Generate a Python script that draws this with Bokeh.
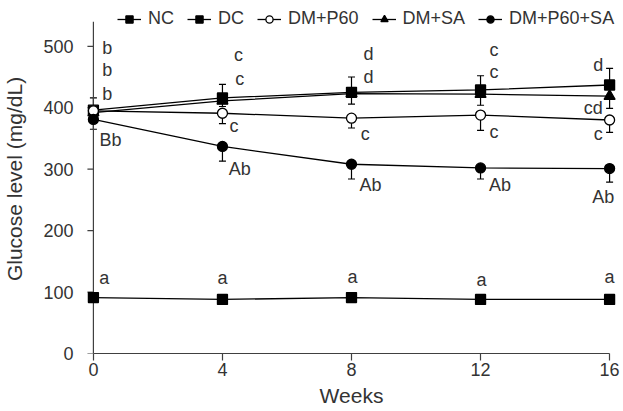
from bokeh.plotting import figure
from bokeh.models import Range1d, FixedTicker, Legend, LegendItem, Whisker, ColumnDataSource, TeeHead
from bokeh.core.properties import value
from bokeh.embed import file_html
from bokeh.resources import INLINE

# ---- data ----
weeks = [0, 4, 8, 12, 16]
nc = [91, 88, 91, 88, 88]
dc = [396, 416, 425, 429, 437]
p60 = [395, 391, 383, 388, 380]
sa = [392, 411, 423, 422, 419]
p60sa = [381, 337, 308, 302, 301]
dc_sd = [20, 22, 25, 23, 27]
p60_sd = [10, 17, 16, 25, 20]
sa_sd = [12, 9, 17, 18, 20]
p60sa_sd = [16, 24, 24, 18, 22]
series_names = ["NC", "DC", "DM+P60", "DM+SA", "DM+P60+SA"]
x_ticks = [0, 4, 8, 12, 16]
y_ticks = [0, 100, 200, 300, 400, 500]

# significance letters: (week position, glucose position, text)
ann_x = [0.43, 0.43, 0.43, 0.53, 0.34,
         4.5, 4.54, 4.36, 4.54, 4.0,
         8.53, 8.53, 8.43, 8.59, 8.03,
         12.42, 12.42, 12.42, 12.6, 12.03,
         15.65, 15.49, 15.65, 15.8, 16.0]
ann_y = [498, 461, 422, 347, 123,
         485, 447, 370, 301, 123,
         488, 450, 357, 274, 124,
         494, 458, 360, 274, 120,
         469, 400, 357, 255, 124]
ann_t = ["b", "b", "b", "Bb", "a",
         "c", "c", "c", "Ab", "a",
         "d", "d", "c", "Ab", "a",
         "c", "c", "c", "Ab", "a",
         "d", "cd", "c", "Ab", "a"]

FONT = "Liberation Sans"
TXT = "#333333"
AX = "#404040"

p = figure(width=623, height=411, output_backend="svg", toolbar_location=None,
           x_range=Range1d(-0.4, 16.4), y_range=Range1d(0, 568),
           min_border_left=78, min_border_right=1, min_border_top=4, min_border_bottom=58)
p.grid.visible = False
p.outline_line_color = None
p.background_fill_color = "white"
p.border_fill_color = "white"

# y axis line and ticks drawn at week 0 (the frame extends a little left of it)
tick_len = 6 / 32.38
p.segment(x0=[0], y0=[0], x1=[0], y1=[540], line_color=AX, line_width=1.2)
p.segment(x0=[-tick_len] * len(y_ticks), y0=y_ticks, x1=[0] * len(y_ticks), y1=y_ticks,
          line_color=AX, line_width=1.2)

def add_whisker(vals, sds, up):
    if up:
        src = ColumnDataSource(dict(x=weeks, lo=vals, hi=[v + s for v, s in zip(vals, sds)]))
        w = Whisker(source=src, base="x", upper="hi", lower="lo", dimension="height",
                    line_color="black", line_width=1.2,
                    upper_head=TeeHead(size=7, line_color="black", line_width=1.2), lower_head=None)
    else:
        src = ColumnDataSource(dict(x=weeks, lo=[v - s for v, s in zip(vals, sds)], hi=vals))
        w = Whisker(source=src, base="x", upper="hi", lower="lo", dimension="height",
                    line_color="black", line_width=1.2,
                    lower_head=TeeHead(size=7, line_color="black", line_width=1.2), upper_head=None)
    p.add_layout(w)

add_whisker(dc, dc_sd, True)
add_whisker(sa, sa_sd, False)
add_whisker(p60, p60_sd, False)
add_whisker(p60sa, p60sa_sd, False)

specs = {
    "NC": (nc, "square", 10, "black"),
    "DC": (dc, "square", 10, "black"),
    "DM+P60": (p60, "circle", 10, "white"),
    "DM+SA": (sa, "triangle", 11, "black"),
    "DM+P60+SA": (p60sa, "circle", 10, "black"),
}
rends = {}
for name in ["NC", "DC", "DM+SA", "DM+P60", "DM+P60+SA"]:
    vals, mk, sz, fill = specs[name]
    ln = p.line(weeks, vals, line_color="black", line_width=1.3)
    sc = p.scatter(weeks, vals, marker=mk, size=sz, fill_color=fill, line_color="black", line_width=1.3)
    rends[name] = [ln, sc]
items = [LegendItem(label=n, renderers=rends[n]) for n in series_names]

p.text(x=ann_x, y=ann_y, text=ann_t, text_font=value(FONT), text_font_size="18px",
       text_color=TXT, text_align="center", text_baseline="middle")

legend = Legend(items=items, orientation="horizontal", location=(37, 324),
                label_text_font=FONT, label_text_font_size="18px", label_text_color=TXT,
                glyph_width=24, glyph_height=18, label_standoff=7, spacing=13,
                padding=0, margin=0, border_line_color=None, background_fill_alpha=0)
p.add_layout(legend)

xa = p.xaxis[0]
xa.bounds = (0, 16)
xa.ticker = FixedTicker(ticks=x_ticks)
xa.major_tick_out = 7
xa.major_tick_in = 0
xa.minor_tick_out = 0
xa.minor_tick_in = 0
xa.major_label_standoff = 2
xa.axis_label = "Weeks"
xa.axis_label_standoff = 5
xa.axis_label_text_font = FONT
xa.axis_label_text_font_size = "21px"
xa.axis_label_text_font_style = "normal"
xa.axis_label_text_color = TXT
xa.major_label_text_font = FONT
xa.major_label_text_font_size = "18px"
xa.major_label_text_color = TXT
xa.axis_line_color = AX
xa.axis_line_width = 1.2
xa.major_tick_line_color = AX
xa.major_tick_line_width = 1.2

ya = p.yaxis[0]
ya.ticker = FixedTicker(ticks=y_ticks)
ya.axis_line_color = None
ya.major_tick_line_color = None
ya.major_tick_out = 0
ya.major_tick_in = 0
ya.minor_tick_out = 0
ya.minor_tick_in = 0
ya.major_label_standoff = 7
ya.axis_label = "Glucose level (mg/dL)"
ya.axis_label_standoff = 14
ya.axis_label_text_font = FONT
ya.axis_label_text_font_size = "21px"
ya.axis_label_text_font_style = "normal"
ya.axis_label_text_color = TXT
ya.major_label_text_font = FONT
ya.major_label_text_font_size = "18px"
ya.major_label_text_color = TXT

open("out.html", "w").write(file_html(p, INLINE))
